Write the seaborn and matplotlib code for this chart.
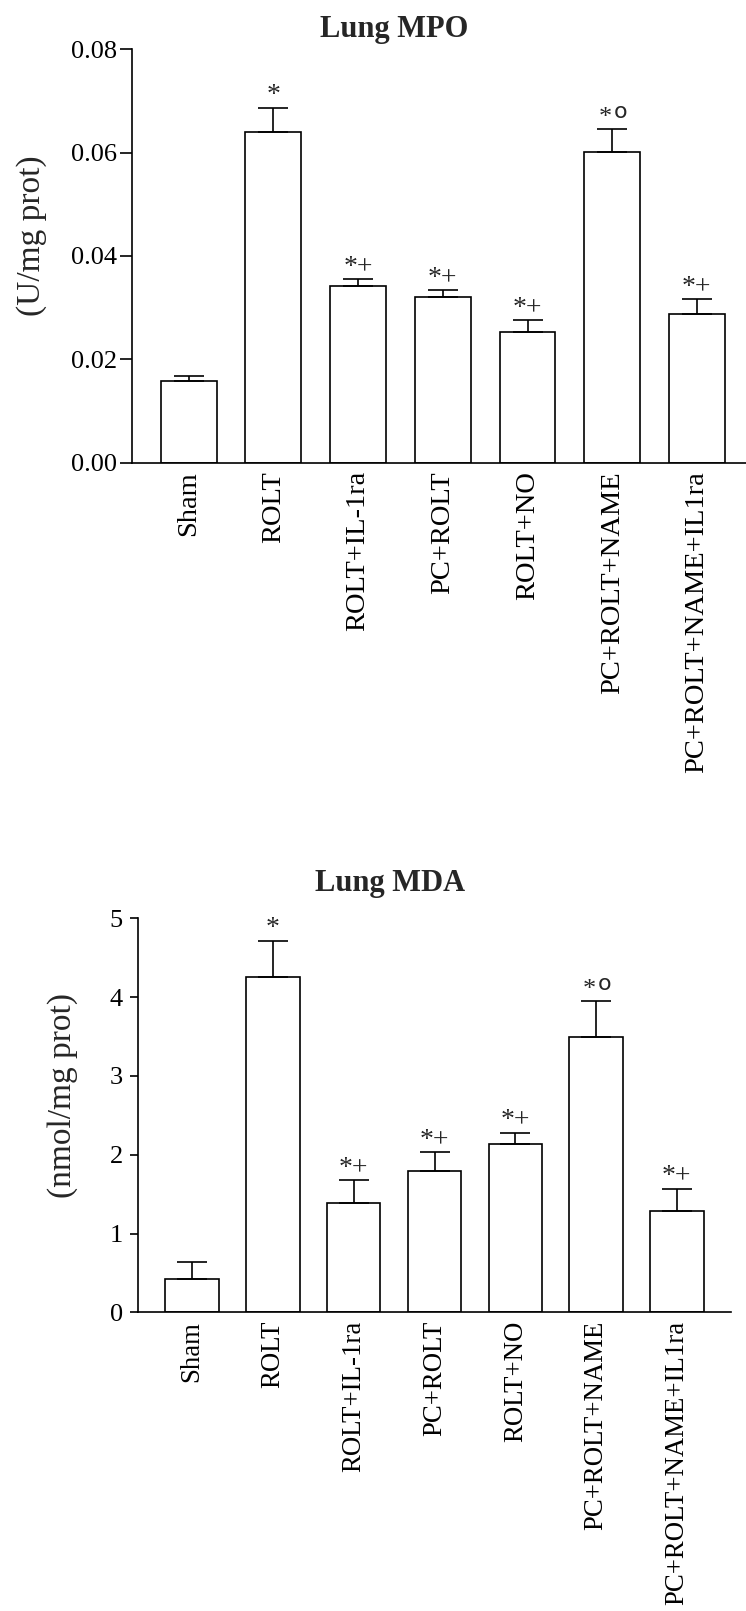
import matplotlib
matplotlib.use("Agg")
import matplotlib.pyplot as plt
import seaborn as sns
import pandas as pd

# Treatment groups
groups = ["Sham", "ROLT", "ROLT+IL-1ra", "PC+ROLT", "ROLT+NO",
          "PC+ROLT+NAME", "PC+ROLT+NAME+IL1ra"]

# Lung MPO (U/mg prot): mean and SEM
mpo_mean = [0.0158, 0.0640, 0.0341, 0.0320, 0.0252, 0.0601, 0.0288]
mpo_sem = [0.0010, 0.0046, 0.0014, 0.0014, 0.0024, 0.0044, 0.0028]
mpo_marks = ["", "*", "*+", "*+", "*+", "*o", "*+"]

# Lung MDA (nmol/mg prot): mean and SEM
mda_mean = [0.42, 4.26, 1.39, 1.79, 2.14, 3.50, 1.29]
mda_sem = [0.22, 0.45, 0.29, 0.24, 0.14, 0.45, 0.28]
mda_marks = ["", "*", "*+", "*+", "*+", "*o", "*+"]

sns.set_theme(style="ticks")
plt.rcParams["font.family"] = ["Liberation Serif", "DejaVu Serif"]
plt.rcParams["axes.linewidth"] = 1.2

W, H = 746, 1611
fig = plt.figure(figsize=(W / 100, H / 100), dpi=100)


def panel(rect, means, sems, marks, ylim, yticks, yfmt, ylabel,
          xlim, label_xy, title, title_xy, tick_len, tick_pad, tick_fs,
          xlab_fs):
    ax = fig.add_axes(rect)
    df = pd.DataFrame({"group": groups, "value": means})
    sns.barplot(data=df, x="group", y="value", order=groups, ax=ax,
                color="white", edgecolor="black", linewidth=1.2,
                width=0.66, errorbar=None, saturation=1)
    # upper SEM whiskers only
    ax.errorbar(range(len(groups)), means, yerr=[[0] * len(sems), sems],
                fmt="none", ecolor="black", elinewidth=1.2,
                capsize=10.5, capthick=1.2, zorder=3)
    for i, (m, s, t) in enumerate(zip(means, sems, marks)):
        if not t:
            continue
        if t == "*o":
            ax.annotate("*", (i, m + s), xytext=(-5, 0),
                        textcoords="offset points", ha="center",
                        va="bottom", fontsize=19)
            ax.annotate("o", (i, m + s), xytext=(6, 5),
                        textcoords="offset points", ha="center",
                        va="bottom", fontsize=16,
                        family=["DejaVu Sans"])
        else:
            ax.annotate(t, (i, m + s), xytext=(0, 0),
                        textcoords="offset points", ha="center",
                        va="bottom", fontsize=20)
    ax.set_xlim(*xlim)
    ax.set_ylim(*ylim)
    ax.set_yticks(yticks)
    ax.set_yticklabels([yfmt.format(v) for v in yticks], fontsize=tick_fs)
    ax.set_xticks(range(len(groups)))
    ax.set_xticklabels(groups, rotation=90, fontsize=xlab_fs)
    ax.tick_params(axis="y", direction="out", length=tick_len, width=1.2,
                   pad=tick_pad, colors="black")
    ax.tick_params(axis="x", length=0, pad=6, colors="black")
    ax.set_xlabel("")
    ax.set_ylabel(ylabel, fontsize=24)
    ax.yaxis.set_label_coords(*label_xy)
    sns.despine(ax=ax)
    for sp in ax.spines.values():
        sp.set_color("black")
    fig.text(title_xy[0] / W, 1 - title_xy[1] / H, title, ha="center",
             va="center", fontsize=22, fontweight="bold")
    return ax


panel([132 / W, 1 - 462.7 / H, (746 - 132) / W, (462.7 - 49.3) / H],
      mpo_mean, mpo_sem, mpo_marks, (0, 0.08),
      [0.0, 0.02, 0.04, 0.06, 0.08], "{:.2f}", "(U/mg prot)",
      (-0.67, 6.58), (-0.138, 0.55), "Lung MPO", (394, 29),
      9, 2, 19, 20.5)

panel([138 / W, 1 - 1312.3 / H, (731 - 138) / W, (1312.3 - 918.3) / H],
      mda_mean, mda_sem, mda_marks, (0, 5),
      [0, 1, 2, 3, 4, 5], "{:d}", "(nmol/mg prot)",
      (-0.67, 6.67), (-0.101, 0.551), "Lung MDA", (390, 884),
      6, 5, 19, 19.3)

fig.savefig("out.png", dpi=100, facecolor="white")
